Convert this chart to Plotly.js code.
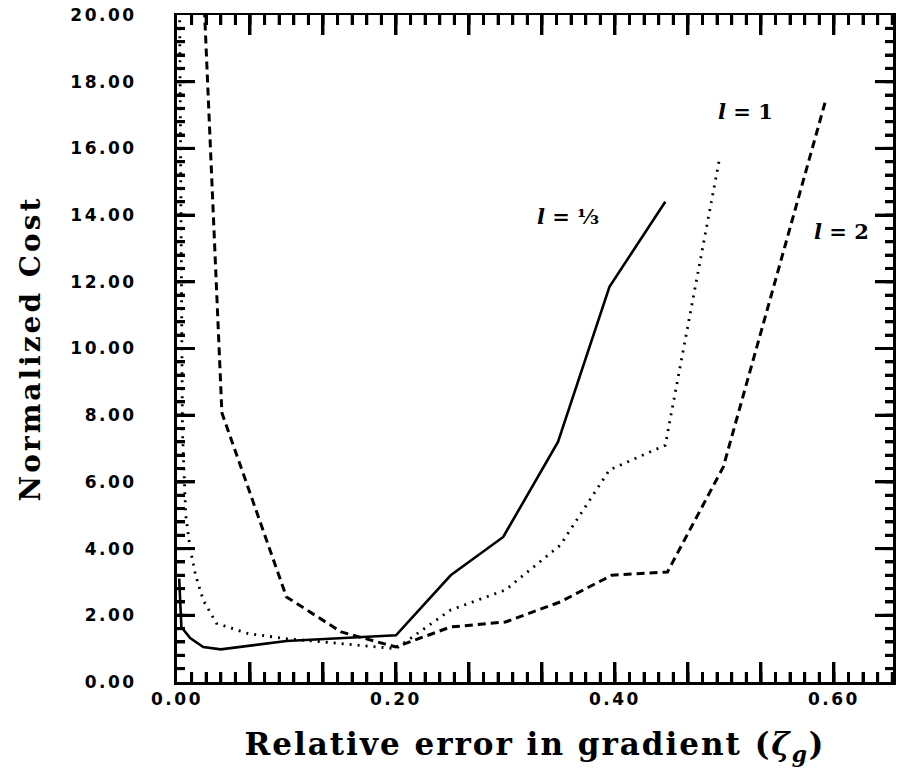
<!DOCTYPE html>
<html>
<head>
<meta charset="utf-8">
<script src="https://cdn.plot.ly/plotly-3.0.1.min.js"></script>
<style>
  html, body { margin: 0; padding: 0; background: #fff; }
  #chart { width: 904px; height: 783px; }
  .xtick text, .ytick text { letter-spacing: 2.5px; }
  .g-xtitle text { letter-spacing: 2px; }
  .g-ytitle text { letter-spacing: 3px; }
</style>
</head>
<body>
<div id="chart"></div>
<script>
// l = 1/3 (solid)
const solidX = [0.002, 0.004, 0.012, 0.024, 0.04, 0.1, 0.2, 0.25, 0.298, 0.348, 0.395, 0.446];
const solidY = [3.1, 1.65, 1.32, 1.05, 0.98, 1.23, 1.4, 3.2, 4.35, 7.2, 11.85, 14.4];
// l = 1 (dotted)
const dotX = [0.002, 0.005, 0.008, 0.012, 0.017, 0.024, 0.036, 0.065, 0.1, 0.19, 0.2, 0.25, 0.3, 0.35, 0.395, 0.446, 0.496];
const dotY = [22.0, 7.5, 5.0, 4.0, 3.2, 2.45, 1.76, 1.45, 1.3, 1.05, 1.0, 2.16, 2.76, 4.1, 6.36, 7.1, 15.77];
// l = 2 (dashed)
const dashX = [0.022, 0.041, 0.1, 0.15, 0.2, 0.25, 0.3, 0.35, 0.397, 0.448, 0.499, 0.593];
const dashY = [22.5, 8.07, 2.55, 1.5, 1.05, 1.65, 1.8, 2.4, 3.2, 3.3, 6.45, 17.5];

// axis ticks: long ticks every 1/15 on x (labels every 0.2), every 2 on y
const xTickVals = [0, 1/15, 2/15, 0.2, 4/15, 5/15, 0.4, 7/15, 8/15, 0.6, 10/15];
const xTickText = ["0.00", " ", " ", "0.20", " ", " ", "0.40", " ", " ", "0.60", " "];
const yTickVals = [0, 2, 4, 6, 8, 10, 12, 14, 16, 18, 20];
const yTickText = ["0.00", "2.00", "4.00", "6.00", "8.00", "10.00", "12.00", "14.00", "16.00", "18.00", "20.00"];
const xMinorStep = 1 / 75;
const yMinorStep = 0.4;

// curve labels
const labelText = ["<i>l</i> = ⅓", "<i>l</i> = 1", "<i>l</i> = 2"];
const labelX = [0.357, 0.519, 0.607];
const labelY = [13.97, 17.12, 13.52];

const xRange = [0, 0.654];
const yRange = [0, 20];

const W = 904, H = 783;
const M = {l: 177, r: 11, t: 15, b: 101};
// one screen pixel in axis units (for tick-mark lengths)
const xPx = (xRange[1] - xRange[0]) / (W - M.l - M.r);
const yPx = (yRange[1] - yRange[0]) / (H - M.t - M.b);

// inward tick marks on all four sides, as line segments in axis units
const tickX = [], tickY = [];
function xTick(v, len) {
  tickX.push(v, v, null, v, v, null);
  tickY.push(yRange[0], yRange[0] + len * yPx, null, yRange[1], yRange[1] - len * yPx, null);
}
function yTick(v, len) {
  tickY.push(v, v, null, v, v, null);
  tickX.push(xRange[0], xRange[0] + len * xPx, null, xRange[1], xRange[1] - len * xPx, null);
}
for (let k = 1; k * xMinorStep < xRange[1]; k++) xTick(k * xMinorStep, 10);
xTickVals.forEach(v => { if (v > 0 && v < xRange[1]) xTick(v, 20); });
for (let k = 1; k * yMinorStep < yRange[1] - 1e-9; k++) yTick(k * yMinorStep, 8);
yTickVals.forEach(v => { if (v > 0 && v < yRange[1]) yTick(v, 18); });

const traces = [
  {x: tickX, y: tickY, mode: 'lines', line: {color: '#000', width: 3}, connectgaps: false, hoverinfo: 'skip', cliponaxis: false},
  {x: solidX, y: solidY, mode: 'lines', line: {color: '#000', width: 2.6, dash: 'solid'}},
  {x: dotX, y: dotY, mode: 'lines', line: {color: '#000', width: 2.8, dash: '2px,6px'}},
  {x: dashX, y: dashY, mode: 'lines', line: {color: '#000', width: 3, dash: '8px,5px'}}
];

const tickFont = {family: 'DejaVu Sans', size: 17, color: '#000', weight: 'bold'};

const layout = {
  width: W, height: H,
  margin: M,
  paper_bgcolor: '#fff', plot_bgcolor: '#fff',
  showlegend: false,
  xaxis: {
    range: xRange,
    tickmode: 'array', tickvals: xTickVals, ticktext: xTickText,
    ticks: 'inside', ticklen: 20, tickwidth: 3, tickcolor: '#000',
    minor: {tickmode: 'linear', tick0: 0, dtick: xMinorStep, ticks: 'inside', ticklen: 10, tickwidth: 3, tickcolor: '#000', showgrid: false},
    showline: true, linewidth: 2.5, linecolor: '#000', mirror: 'allticks',
    showgrid: false, zeroline: false,
    tickfont: tickFont, ticklabelstandoff: 0,
    title: {text: 'Relative error in gradient (<i>ζ<sub>g</sub></i>)', font: {family: 'DejaVu Serif', size: 31, color: '#000', weight: 'bold'}, standoff: 26}
  },
  yaxis: {
    range: yRange,
    tickmode: 'array', tickvals: yTickVals, ticktext: yTickText,
    ticks: 'inside', ticklen: 18, tickwidth: 3, tickcolor: '#000',
    minor: {tickmode: 'linear', tick0: 0, dtick: yMinorStep, ticks: 'inside', ticklen: 8, tickwidth: 3, tickcolor: '#000', showgrid: false},
    showline: true, linewidth: 3, linecolor: '#000', mirror: 'allticks',
    showgrid: false, zeroline: false,
    tickfont: tickFont, ticklabelstandoff: 34,
    title: {text: 'Normalized Cost', font: {family: 'DejaVu Serif', size: 28, color: '#000', weight: 'bold'}, standoff: 22}
  },
  annotations: labelText.map((t, i) => ({
    x: labelX[i], y: labelY[i], xref: 'x', yref: 'y', text: t, showarrow: false,
    font: {family: 'DejaVu Serif', size: 21, color: '#000', weight: 'bold'}
  }))
};

Plotly.newPlot('chart', traces, layout, {displayModeBar: false, staticPlot: true});
</script>
</body>
</html>
